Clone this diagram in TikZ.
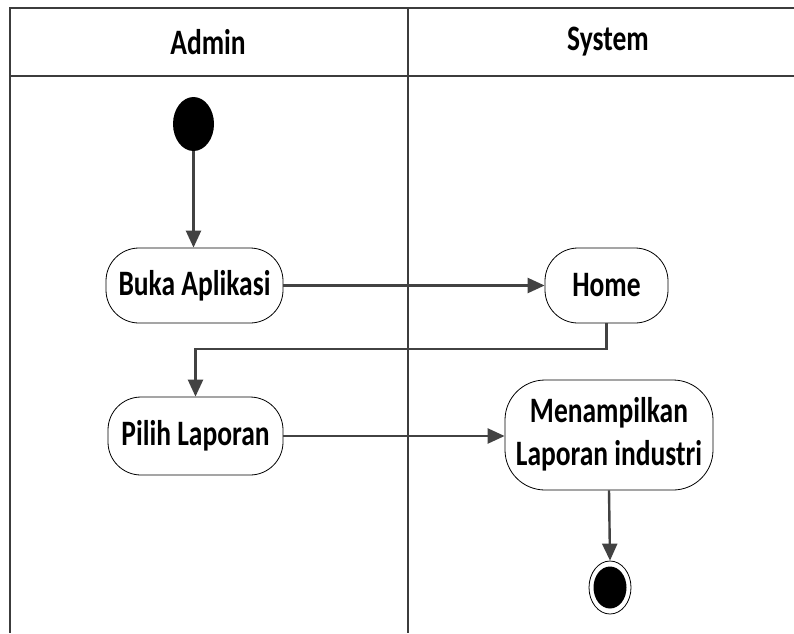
\documentclass[tikz,border=0pt]{standalone}
\usepackage{fontspec}
\usepackage{graphicx}
\setmainfont{Carlito}
\usetikzlibrary{shapes.geometric,arrows.meta}
\definecolor{lanegray}{HTML}{3C3C3C}
\definecolor{arrgray}{HTML}{424242}
\newcommand{\stx}[1]{\scalebox{1}[1.3]{#1}}
\tikzset{
  lane/.style={draw=lanegray, line width=2.2pt},
  act/.style={draw=black, line width=0.8pt, rounded corners=33pt, fill=white, inner sep=0pt,
    font=\fontsize{27.5}{33}\selectfont\bfseries, align=center},
  flow/.style={draw=arrgray, line width=2.4pt, -{Triangle[length=17pt,width=15pt]}},
  hdr/.style={font=\fontsize{27.5}{33}\selectfont\bfseries}
}
\begin{document}
\begin{tikzpicture}[x=1pt,y=-1pt]
\useasboundingbox (0,0) rectangle (794,633);
% swimlanes
\draw[lane] (10,8) -- (794,8);
\draw[lane] (10,76) -- (794,76);
\draw[lane] (10,7) -- (10,633);
\draw[lane] (408,8) -- (408,633);
\node[hdr] (hadmin) at (208,42) {\stx{Admin}};
\node[hdr] (hsystem) at (608,42) {\stx{System}};
% nodes
\node[ellipse, fill=black, minimum width=41pt, minimum height=54pt, inner sep=0pt] (start) at (193.5,124) {};
\node[act, minimum width=177pt, minimum height=75pt] (buka) at (194.5,285.5) {\stx{Buka Aplikasi}};
\node[act, minimum width=123pt, minimum height=75pt] (home) at (606.5,285.5) {\stx{Home}};
\node[act, minimum width=175pt, minimum height=78pt] (pilih) at (195.5,436) {\stx{Pilih Laporan}};
\node[act, rounded corners=40pt, minimum width=208pt, minimum height=110pt] (tampil) at (609,435)
  {\stx{\begin{tabular}{@{}c@{}}Menampilkan\\Laporan industri\end{tabular}}};
\node[ellipse, draw=black, line width=0.8pt, fill=white, minimum width=42pt, minimum height=53pt, inner sep=0pt] (endo) at (610,587.5) {};
\node[ellipse, fill=black, minimum width=33pt, minimum height=42pt, inner sep=0pt] (endi) at (610,587.5) {};
% connectors
\draw[flow] (start.south) -- (start.south |- buka.north);
\draw[flow] (buka.east) -- (home.west);
\draw[flow] (home.south) -- (home.south |- 0,349) -| (pilih.north);
\draw[flow] (pilih.east) -- (pilih.east -| tampil.west);
\draw[flow] (tampil.south) -- (endo.north);
\end{tikzpicture}
\end{document}
